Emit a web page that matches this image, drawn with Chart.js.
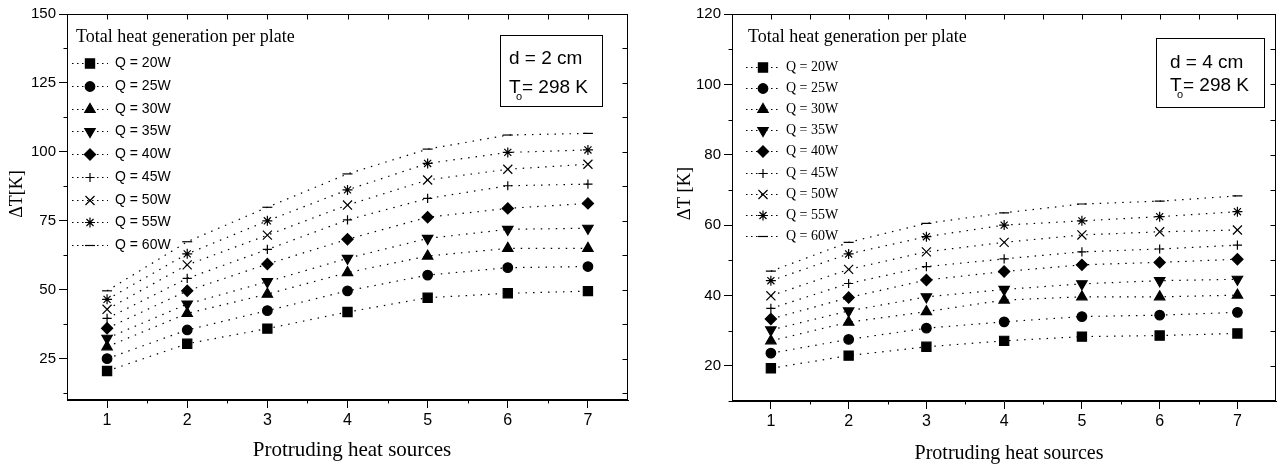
<!DOCTYPE html>
<html>
<head>
<meta charset="utf-8">
<script src="https://cdn.jsdelivr.net/npm/chart.js@4.4.1/dist/chart.umd.min.js"></script>
<style>
  html, body { margin: 0; padding: 0; background: #fff; }
  #wrap { position: relative; width: 1284px; height: 470px; }
  canvas { position: absolute; top: 0; }
</style>
</head>
<body>
<div id="wrap">
  <canvas id="chartLeft" width="642" height="470" style="left:0"></canvas>
  <canvas id="chartRight" width="642" height="470" style="left:642px"></canvas>
</div>
<script>
// number of protruding heat sources
const xValues = [1, 2, 3, 4, 5, 6, 7];
const xTicks = [1, 2, 3, 4, 5, 6, 7];
const qLabels = ['Q = 20W', 'Q = 25W', 'Q = 30W', 'Q = 35W', 'Q = 40W', 'Q = 45W', 'Q = 50W', 'Q = 55W', 'Q = 60W'];

// d = 2 cm, delta T [K]
const d2Q20 = [20.5, 30.4, 35.9, 41.9, 47.1, 48.7, 49.5];
const d2Q25 = [25.0, 35.4, 42.4, 49.6, 55.3, 58.0, 58.4];
const d2Q30 = [29.3, 41.4, 48.4, 56.2, 62.2, 65.0, 65.0];
const d2Q35 = [32.4, 44.8, 52.9, 61.4, 68.6, 71.9, 72.3];
const d2Q40 = [36.0, 49.6, 59.3, 68.3, 76.3, 79.5, 81.3];
const d2Q45 = [39.6, 54.1, 64.6, 75.3, 83.1, 87.7, 88.3];
const d2Q50 = [42.9, 59.0, 69.8, 80.7, 89.8, 93.7, 95.5];
const d2Q55 = [46.5, 63.0, 75.0, 86.2, 95.8, 99.8, 100.7];
const d2Q60 = [49.6, 67.4, 79.9, 92.0, 101.0, 106.1, 106.7];

// d = 4 cm, delta T [K]
const d4Q20 = [19.3, 22.9, 25.4, 27.1, 28.3, 28.6, 29.2];
const d4Q25 = [23.6, 27.5, 30.7, 32.5, 34.0, 34.4, 35.2];
const d4Q30 = [27.1, 32.4, 35.4, 38.7, 39.6, 39.6, 40.1];
const d4Q35 = [30.2, 35.6, 39.6, 41.7, 43.3, 44.2, 44.6];
const d4Q40 = [33.3, 39.4, 44.4, 46.8, 48.7, 49.4, 50.3];
const d4Q45 = [36.3, 43.4, 48.2, 50.4, 52.4, 53.2, 54.3];
const d4Q50 = [39.9, 47.4, 52.4, 55.1, 57.2, 58.1, 58.6];
const d4Q55 = [44.2, 51.8, 56.7, 60.0, 61.2, 62.4, 63.8];
const d4Q60 = [46.9, 55.1, 60.5, 63.5, 66.0, 66.8, 68.3];

const leftYTicks = [25, 50, 75, 100, 125, 150];
const rightYTicks = [20, 40, 60, 80, 100, 120];

const markerStyles = ['rect', 'circle', 'triangle', 'triangle', 'rectRot', 'cross', 'crossRot', 'star', 'line'];
const markerRotation = [0, 0, 0, 180, 0, 0, 0, 0, 0];
const markerRadius = [6.5, 4.8, 6, 6, 5.6, 4.6, 6.4, 5, 5];

const SANS = 'Liberation Sans, Arial, sans-serif';
const SERIF = 'Liberation Serif, Times New Roman, serif';

// frame, minor ticks, axis titles, legend and info box
const decor = {
  id: 'decor',
  afterDraw(chart, args, o) {
    const ctx = chart.ctx;
    const { left, right, top, bottom } = chart.chartArea;
    const xs = chart.scales.x, ys = chart.scales.y;
    const px = v => Math.round(xs.getPixelForValue(v)) + 0.5;
    const py = v => Math.round(ys.getPixelForValue(v)) + 0.5;
    ctx.save();
    ctx.strokeStyle = '#000';
    ctx.fillStyle = '#000';
    ctx.lineWidth = 1;

    const L = Math.round(left) + 0.5, R = Math.round(right) - 0.5;
    const T = Math.round(top) + 0.5, B = Math.round(bottom) - 0.5;
    ctx.strokeRect(L, T, R - L, B - T);

    ctx.beginPath();
    for (let v = 1; v <= 7; v += 0.5) {
      ctx.moveTo(px(v), T); ctx.lineTo(px(v), T + 5);
    }
    for (let v = 1.5; v < 7.5; v += 1) {
      ctx.moveTo(px(v), B); ctx.lineTo(px(v), B + 4);
    }
    for (let v = o.yMinorStart; v < o.yMax; v += o.yMinorStep * 2) {
      ctx.moveTo(L, py(v)); ctx.lineTo(L - 4, py(v));
    }
    for (let v = o.yMinorStart; v < o.yMax; v += o.yMinorStep) {
      ctx.moveTo(R, py(v)); ctx.lineTo(R - 5, py(v));
    }
    ctx.stroke();

    // axis titles
    ctx.font = o.yTitleFont;
    ctx.textAlign = 'center';
    ctx.textBaseline = 'middle';
    ctx.save();
    ctx.translate(o.yTitlePos[0], o.yTitlePos[1]);
    ctx.rotate(-Math.PI / 2);
    ctx.fillText(o.yTitle, 0, 0);
    ctx.restore();
    ctx.font = o.xTitleFont;
    ctx.textBaseline = 'alphabetic';
    ctx.fillText('Protruding heat sources', o.xTitlePos[0], o.xTitlePos[1]);

    // legend
    const lg = o.legend;
    ctx.textAlign = 'left';
    ctx.font = '18px ' + SERIF;
    ctx.fillText('Total heat generation per plate', lg.titleX, lg.titleY);
    chart.data.datasets.forEach((ds, i) => {
      const y = Math.round(lg.y0 + i * lg.dy) + 0.5;
      ctx.lineWidth = 1.2;
      ctx.setLineDash([1.5, 3.5]);
      ctx.beginPath();
      ctx.moveTo(lg.x0, y); ctx.lineTo(lg.x1, y);
      ctx.stroke();
      ctx.setLineDash([]);
      Chart.helpers.drawPoint(ctx, {
        pointStyle: ds.pointStyle, rotation: ds.pointRotation,
        radius: ds.pointRadius, borderWidth: 1.2
      }, lg.xm, y);
      ctx.font = lg.font;
      ctx.textBaseline = 'middle';
      ctx.fillText(ds.label, lg.xt, y);
    });

    // info box
    const bx = o.box;
    ctx.lineWidth = 1;
    ctx.strokeRect(bx.x + 0.5, bx.y + 0.5, bx.w, bx.h);
    ctx.textBaseline = 'alphabetic';
    ctx.font = '19px ' + SANS;
    ctx.fillText(bx.line1, bx.tx, bx.b1);
    ctx.fillText('T', bx.tx, bx.b2);
    ctx.fillText('= 298 K', bx.tx + 13, bx.b2);
    ctx.font = '11px ' + SANS;
    ctx.fillText('o', bx.tx + 7, bx.b2 + 7);
    ctx.restore();
  }
};

function makeChart(id, series, yMin, yMax, yTicks, panel) {
  return new Chart(document.getElementById(id), {
    type: 'line',
    data: {
      datasets: series.map((vals, i) => ({
        label: qLabels[i],
        data: xValues.map((x, j) => ({ x: x, y: vals[j] })),
        borderColor: '#000',
        borderWidth: 1.2,
        borderDash: [1.5, 6],
        tension: 0,
        fill: false,
        pointStyle: markerStyles[i],
        pointRotation: markerRotation[i],
        pointRadius: markerRadius[i],
        pointBackgroundColor: '#000',
        pointBorderColor: '#000',
        pointBorderWidth: 1.2
      }))
    },
    options: {
      responsive: false,
      animation: false,
      events: [],
      layout: { padding: panel.padding },
      plugins: {
        legend: { display: false },
        tooltip: { enabled: false },
        decor: panel
      },
      scales: {
        x: {
          type: 'linear',
          min: 0.5,
          max: 7.5,
          afterBuildTicks: s => { s.ticks = xTicks.map(v => ({ value: v })); },
          afterFit: s => { s.height = panel.xHeight; },
          grid: { drawOnChartArea: false, color: '#000', tickLength: 8 },
          border: { color: '#000', width: 1 },
          ticks: { color: '#000', font: { family: SANS, size: 16 }, padding: 3, maxRotation: 0 }
        },
        y: {
          type: 'linear',
          min: yMin,
          max: yMax,
          afterBuildTicks: s => { s.ticks = yTicks.map(v => ({ value: v })); },
          afterFit: s => { s.width = panel.yWidth; },
          grid: { drawOnChartArea: false, color: '#000', tickLength: 8 },
          border: { color: '#000', width: 1 },
          ticks: { color: '#000', font: { family: SANS, size: 15 }, padding: 3 }
        }
      }
    },
    plugins: [decor]
  });
}

makeChart('chartLeft',
  [d2Q20, d2Q25, d2Q30, d2Q35, d2Q40, d2Q45, d2Q50, d2Q55, d2Q60],
  10, 150, leftYTicks, {
    padding: { left: 0, top: 14, right: 14, bottom: 0 },
    yWidth: 67, xHeight: 70,
    yMax: 150, yMinorStart: 12.5, yMinorStep: 12.5,
    yTitle: '\u0394T[K]', yTitleFont: '18px ' + SERIF, yTitlePos: [17.5, 194],
    xTitleFont: '21px ' + SERIF, xTitlePos: [352, 456],
    legend: { titleX: 76, titleY: 42, y0: 63, dy: 22.75, x0: 72, x1: 108, xm: 90, xt: 115, font: '14px ' + SANS },
    box: { x: 500, y: 35, w: 102, h: 71, tx: 509, b1: 64, b2: 93, line1: 'd = 2 cm' }
  });

makeChart('chartRight',
  [d4Q20, d4Q25, d4Q30, d4Q35, d4Q40, d4Q45, d4Q50, d4Q55, d4Q60],
  10, 120, rightYTicks, {
    padding: { left: 0, top: 14, right: 1, bottom: 0 },
    yWidth: 90, xHeight: 69,
    yMax: 120, yMinorStart: 10, yMinorStep: 10,
    yTitle: '\u0394T [K]', yTitleFont: '18.5px ' + SERIF, yTitlePos: [43, 193.5],
    xTitleFont: '20px ' + SERIF, xTitlePos: [367, 459],
    legend: { titleX: 106, titleY: 42, y0: 67, dy: 21.1, x0: 104, x1: 138, xm: 121, xt: 144, font: '14px ' + SERIF },
    box: { x: 514, y: 38, w: 108, h: 69, tx: 528, b1: 68, b2: 91, line1: 'd = 4 cm' }
  });
</script>
</body>
</html>
